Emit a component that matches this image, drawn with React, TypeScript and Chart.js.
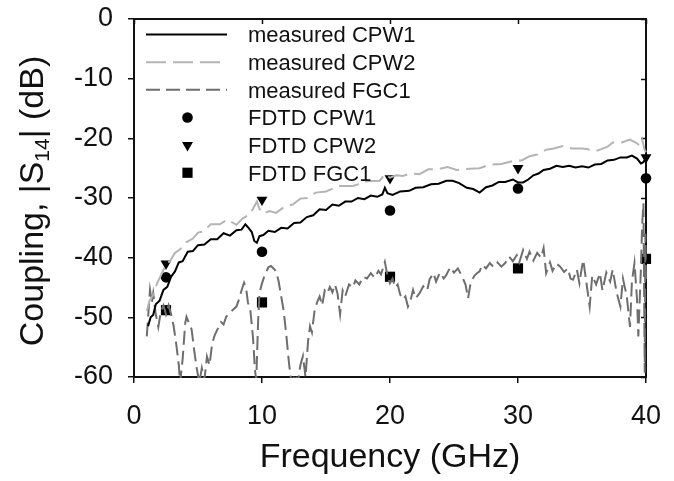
import React, { useEffect, useRef } from "react";
import { Chart, registerables } from "chart.js";

Chart.register(...registerables);

const FONT = '"Liberation Sans", Arial, Helvetica, sans-serif';

const xTicks = [0, 10, 20, 30, 40];
const yTicks = [-60, -50, -40, -30, -20, -10, 0];

const cpw1Freq = [1.1, 1.3, 1.5, 1.7, 2.0, 2.3, 2.6, 2.9, 3.2, 3.5, 3.8, 4.2, 4.6, 5.0, 5.5, 6.0, 6.5, 7.0, 7.5, 8.0, 8.4, 8.7, 8.9, 9.2, 9.4, 9.6, 9.8, 10.1, 10.5, 11, 11.5, 12, 12.5, 13, 13.5, 14, 14.5, 15, 15.5, 16, 16.5, 17, 17.5, 18, 18.5, 19, 19.4, 19.6, 19.8, 20.2, 20.8, 21.5, 22, 22.6, 23.2, 23.8, 24.4, 24.9, 25.4, 26, 26.5, 27, 27.5, 28, 28.5, 29, 29.6, 30, 30.4, 30.8, 31.2, 31.6, 32, 32.5, 33, 33.5, 34, 34.5, 35, 35.5, 36, 36.5, 37, 37.5, 38, 38.5, 38.9, 39.3, 39.6, 39.8, 40];
const cpw1Meas = [-51.5, -50.0, -49.6, -47.8, -47.2, -45.4, -44.9, -43.2, -42.3, -40.8, -40.6, -39.0, -38.9, -37.9, -37.8, -36.9, -36.9, -35.9, -36.3, -35.4, -35.3, -34.4, -34.9, -35.7, -37.2, -37.5, -36.4, -36.2, -35.5, -35.7, -35.0, -35.1, -34.2, -34.1, -33.2, -32.9, -31.9, -32.0, -31.1, -31.3, -30.6, -30.6, -30.0, -30.2, -29.6, -29.8, -29.4, -28.3, -29.2, -29.5, -28.9, -28.8, -28.3, -28.2, -27.7, -27.6, -27.1, -27.1, -27.5, -28.3, -28.5, -29.1, -28.2, -27.9, -27.3, -27.3, -26.9, -27.4, -27.4, -26.9, -26.2, -25.9, -25.3, -25.1, -24.6, -24.8, -24.6, -24.9, -24.7, -24.9, -24.4, -24.3, -23.7, -23.6, -23.2, -23.2, -22.9, -23.4, -24.2, -24.0, -23.2];

const cpw2Freq = [1.0, 1.2, 1.5, 1.8, 2.1, 2.5, 2.8, 3.2, 3.6, 4.1, 4.6, 5.0, 5.4, 6.0, 6.7, 7.3, 8.0, 8.5, 9.0, 9.3, 9.6, 9.8, 10.1, 10.6, 11.1, 11.8, 12.4, 13.0, 13.5, 14.2, 15.0, 16.0, 17.1, 18.2, 19.2, 19.6, 20.0, 20.5, 21.0, 21.6, 22.3, 23.0, 23.9, 24.5, 25.2, 26.2, 27.0, 27.8, 28.7, 29.6, 30.3, 30.9, 31.5, 32.2, 32.8, 33.5, 34.2, 35.0, 35.4, 36.0, 36.4, 37.0, 37.4, 38.1, 38.75, 39.2, 39.5, 39.7, 39.9, 40];
const cpw2Meas = [-49.0, -47.3, -46.2, -44.3, -43.0, -41.1, -40.6, -39.2, -38.6, -37.4, -36.8, -35.8, -35.6, -34.4, -34.4, -33.6, -34.5, -33.4, -32.8, -31.8, -30.6, -31.8, -32.6, -32.2, -32.5, -31.4, -31.1, -30.1, -30.0, -29.1, -28.9, -28.0, -28.0, -27.2, -27.1, -26.0, -26.6, -26.2, -26.3, -25.9, -26.0, -25.2, -25.1, -24.8, -25.3, -25.1, -25.0, -24.4, -24.3, -23.8, -23.7, -23.0, -22.7, -21.9, -21.7, -21.3, -21.7, -21.7, -21.8, -22.2, -21.9, -21.4, -20.7, -20.7, -20.2, -20.7, -21.2, -20.2, -22.0, -22.3];

const fgc1Freq = [1.0, 1.1, 1.25, 1.4, 1.5, 1.7, 1.9, 2.1, 2.3, 2.5, 2.7, 2.9, 3.1, 3.3, 3.5, 3.6, 3.8, 4.0, 4.1, 4.3, 4.5, 4.7, 4.9, 5.1, 5.3, 5.5, 5.7, 5.9, 6.1, 6.3, 6.5, 6.8, 7.0, 7.2, 7.5, 7.8, 8.0, 8.2, 8.4, 8.6, 8.75, 8.9, 9.1, 9.3, 9.45, 9.55, 9.7, 9.8, 10.0, 10.2, 10.5, 10.7, 10.9, 11.1, 11.3, 11.5, 11.7, 11.9, 12.1, 12.3, 12.6, 12.8, 13.0, 13.2, 13.4, 13.6, 13.75, 13.9, 14.1, 14.3, 14.5, 14.7, 14.9, 15.1, 15.3, 15.5, 15.7, 15.9, 16.1, 16.3, 16.5, 16.8, 17.1, 17.3, 17.6, 17.9, 18.2, 18.5, 18.8, 19.1, 19.3, 19.6, 19.8, 20.0, 20.2, 20.4, 20.6, 20.8, 21.0, 21.2, 21.4, 21.6, 21.8, 22.0, 22.3, 22.6, 22.9, 23.1, 23.4, 23.6, 23.9, 24.2, 24.4, 24.7, 25.0, 25.3, 25.6, 25.9, 26.1, 26.3, 26.6, 26.8, 27.0, 27.2, 27.5, 27.8, 28.1, 28.4, 28.7, 29.0, 29.3, 29.6, 29.9, 30.1, 30.4, 30.7, 30.9, 31.2, 31.5, 31.8, 32.0, 32.2, 32.5, 32.7, 33.0, 33.3, 33.6, 33.9, 34.1, 34.3, 34.6, 34.8, 35.0, 35.1, 35.3, 35.6, 35.8, 36.1, 36.4, 36.6, 36.9, 37.2, 37.4, 37.7, 38.0, 38.2, 38.5, 38.75, 38.9, 39.1, 39.3, 39.4, 39.6, 39.7, 39.8, 39.85, 39.9, 39.95, 40.0];
const fgc1Meas = [-53.2, -50.0, -45.4, -47.5, -46.0, -49.5, -51.6, -49.0, -48.0, -49.5, -48.0, -49.5, -51.5, -54.5, -58.0, -61, -57.0, -51.0, -49.9, -51.0, -52.0, -55.5, -58.5, -61, -58.5, -60.5, -56.6, -58.0, -54.5, -53.0, -52.1, -50.8, -51.2, -49.9, -49.2, -48.6, -48.2, -47.0, -45.5, -44.2, -45.0, -47.5, -49.0, -53.5, -58.8, -60.5, -50.5, -46.0, -44.3, -43.0, -41.6, -41.4, -41.8, -42.3, -44.0, -46.5, -49.0, -53.0, -57.5, -61, -59.5, -61, -58.0, -56.5, -60.0, -54.0, -51.5, -52.5, -49.0, -47.5, -46.5, -48.0, -45.5, -46.0, -44.9, -45.8, -44.5, -46.0, -49.5, -45.5, -46.5, -44.5, -45.0, -43.8, -44.5, -43.2, -43.5, -42.6, -43.4, -42.2, -42.8, -40.7, -43.0, -44.3, -43.5, -45.0, -44.5, -46.2, -47.0, -46.5, -48.2, -47.2, -45.4, -46.8, -46.0, -44.8, -45.5, -43.6, -42.6, -44.0, -42.5, -43.5, -42.9, -41.6, -42.5, -41.8, -43.0, -44.5, -46.8, -44.2, -43.0, -42.6, -42.3, -41.2, -41.8, -40.9, -41.6, -40.8, -41.5, -40.9, -39.8, -40.6, -39.6, -40.8, -38.7, -40.2, -39.0, -40.5, -39.2, -40.0, -38.4, -42.6, -40.8, -42.2, -41.0, -41.5, -42.4, -41.8, -43.5, -43.7, -42.0, -44.3, -41.5, -40.4, -43.5, -48.2, -43.0, -44.5, -42.6, -45.5, -42.5, -44.0, -42.0, -45.8, -48.2, -43.5, -46.5, -51.6, -44.0, -40.9, -47.0, -53.2, -42.0, -34.5, -30.9, -45.0, -59.3, -36.0, -44.0];

const fdtdFreq = [2.5, 10, 20, 30, 40];
const fdtdCPW1 = [-43.3, -39.0, -32.1, -28.4, -26.7];
const fdtdCPW2 = [-41.0, -30.3, -26.7, -25.0, -23.2];
const fdtdFGC1 = [-48.8, -47.5, -43.2, -41.8, -40.2];

const seriesLabels = ["measured CPW1", "measured CPW2", "measured FGC1", "FDTD CPW1", "FDTD CPW2", "FDTD FGC1"];

const pts = (xs: number[], ys: number[]) => xs.map((x, i) => ({ x, y: ys[i] }));

const decor = {
  id: "decor",
  beforeDatasetsDraw(chart: any) {
    const { ctx, chartArea: a, scales } = chart;
    const x = scales.x, y = scales.y;
    ctx.save();
    ctx.strokeStyle = "#111";
    ctx.lineWidth = 2;
    ctx.strokeRect(a.left, a.top, a.right - a.left, a.bottom - a.top);
    ctx.lineWidth = 1.5;
    ctx.beginPath();
    for (const t of xTicks) {
      const px = Math.round(x.getPixelForValue(t)) + 0.5;
      ctx.moveTo(px, a.top);
      ctx.lineTo(px, a.top + 5);
    }
    for (const t of yTicks) {
      const py = Math.round(y.getPixelForValue(t)) + 0.5;
      ctx.moveTo(a.right, py);
      ctx.lineTo(a.right - 5, py);
    }
    ctx.stroke();
    ctx.restore();
  },
  afterDraw(chart: any) {
    const { ctx, chartArea: a } = chart;
    ctx.save();
    const ds = chart.data.datasets;
    const lx0 = 146, lx1 = 227, tx = 248;
    ctx.font = `22px ${FONT}`;
    ctx.textBaseline = "alphabetic";
    ctx.textAlign = "left";
    for (let i = 0; i < ds.length; i++) {
      const d = ds[i];
      const cy = 34.5 + i * 27.65;
      if (d.showLine) {
        ctx.save();
        ctx.strokeStyle = d.borderColor;
        ctx.lineWidth = d.borderWidth;
        ctx.setLineDash(d.borderDash || []);
        ctx.beginPath();
        ctx.moveTo(lx0, cy);
        ctx.lineTo(lx1, cy);
        ctx.stroke();
        ctx.restore();
      } else {
        const meta = chart.getDatasetMeta(i);
        const el = meta.data[0];
        if (el) {
          const opts = el.options;
          ctx.save();
          ctx.fillStyle = opts.backgroundColor;
          const r = opts.radius;
          const style = opts.pointStyle;
          const cx = (lx0 + lx1) / 2 + 1;
          ctx.beginPath();
          if (style === "circle") {
            ctx.arc(cx, cy, r, 0, Math.PI * 2);
          } else if (style === "triangle") {
            let rad = Math.PI;
            ctx.moveTo(cx + Math.sin(rad) * r, cy - Math.cos(rad) * r);
            rad += (2 * Math.PI) / 3;
            ctx.lineTo(cx + Math.sin(rad) * r, cy - Math.cos(rad) * r);
            rad += (2 * Math.PI) / 3;
            ctx.lineTo(cx + Math.sin(rad) * r, cy - Math.cos(rad) * r);
            ctx.closePath();
          } else {
            const s = Math.SQRT1_2 * r;
            ctx.rect(cx - s, cy - s, 2 * s, 2 * s);
          }
          ctx.fill();
          ctx.restore();
        }
      }
      ctx.fillStyle = "#111";
      ctx.fillText(seriesLabels[i], tx, cy + 7.9);
    }
    ctx.fillStyle = "#111";
    ctx.font = `34px ${FONT}`;
    ctx.textAlign = "center";
    ctx.fillText("Frequency (GHz)", (a.left + a.right) / 2, 467);
    ctx.save();
    ctx.translate(43, 201);
    ctx.rotate(-Math.PI / 2);
    ctx.textAlign = "left";
    const mainFont = `34px ${FONT}`;
    const subFont = `21px ${FONT}`;
    const p1 = "Coupling, |S", p2 = "14", p3 = "| (dB)";
    ctx.font = mainFont;
    const w1 = ctx.measureText(p1).width;
    const w3 = ctx.measureText(p3).width;
    ctx.font = subFont;
    const w2 = ctx.measureText(p2).width;
    const total = w1 + w2 + w3;
    let u = -total / 2;
    ctx.font = mainFont;
    ctx.fillText(p1, u, 0);
    u += w1;
    ctx.font = subFont;
    ctx.fillText(p2, u, 6);
    u += w2;
    ctx.font = mainFont;
    ctx.fillText(p3, u, 0);
    ctx.restore();
    ctx.restore();
  },
};

export default function App() {
  const ref = useRef<HTMLCanvasElement | null>(null);
  useEffect(() => {
    if (!ref.current) return;
    const chart = new Chart(ref.current, {
      type: "scatter",
      data: {
        datasets: [
          { label: seriesLabels[0], data: pts(cpw1Freq, cpw1Meas), showLine: true, borderColor: "#000", borderWidth: 2, borderDash: [], pointRadius: 0, fill: false, clip: 1 },
          { label: seriesLabels[1], data: pts(cpw2Freq, cpw2Meas), showLine: true, borderColor: "#b4b4b4", borderWidth: 2, borderDash: [20, 7], pointRadius: 0, fill: false, clip: 1 },
          { label: seriesLabels[2], data: pts(fgc1Freq, fgc1Meas), showLine: true, borderColor: "#6e6e6e", borderWidth: 2, borderDash: [14, 6], pointRadius: 0, fill: false, clip: 1 },
          { label: seriesLabels[3], data: pts(fdtdFreq, fdtdCPW1), showLine: false, pointStyle: "circle", pointRadius: 5.3, backgroundColor: "#000", borderColor: "#000", borderWidth: 0, clip: false },
          { label: seriesLabels[4], data: pts(fdtdFreq, fdtdCPW2), showLine: false, pointStyle: "triangle", pointRotation: 180, pointRadius: 6.3, backgroundColor: "#000", borderColor: "#000", borderWidth: 0, clip: false },
          { label: seriesLabels[5], data: pts(fdtdFreq, fdtdFGC1), showLine: false, pointStyle: "rect", pointRadius: 7.2, backgroundColor: "#000", borderColor: "#000", borderWidth: 0, clip: false },
        ] as any,
      },
      options: {
        responsive: false,
        animation: false,
        devicePixelRatio: 1,
        layout: { padding: { left: 0, top: 19, right: 28, bottom: 0 } },
        plugins: { legend: { display: false }, tooltip: { enabled: false } },
        scales: {
          x: {
            type: "linear",
            min: 0,
            max: 40,
            afterFit: (s: any) => {
              s.height = 104;
              s.paddingLeft = 0;
              s.paddingRight = 0;
            },
            afterBuildTicks: (s: any) => {
              s.ticks = xTicks.map((v) => ({ value: v }));
            },
            ticks: { font: { size: 27, family: FONT }, color: "#111", padding: 17, maxRotation: 0, autoSkip: false },
            grid: { drawOnChartArea: false, drawTicks: true, tickLength: 6, color: "#111", lineWidth: 1.5 },
            border: { display: false },
          },
          y: {
            type: "linear",
            min: -60,
            max: 0,
            afterFit: (s: any) => {
              s.width = 134;
              s.paddingTop = 0;
              s.paddingBottom = 0;
            },
            afterBuildTicks: (s: any) => {
              s.ticks = yTicks.map((v) => ({ value: v }));
            },
            ticks: { font: { size: 27, family: FONT }, color: "#111", padding: 15, autoSkip: false },
            grid: { drawOnChartArea: false, drawTicks: true, tickLength: 6, color: "#111", lineWidth: 1.5 },
            border: { display: false },
          },
        },
      },
      plugins: [decor],
    } as any);
    return () => chart.destroy();
  }, []);
  return (
    <div style={{ position: "fixed", left: 0, top: 0, width: 674, height: 481, background: "#fff" }}>
      <canvas ref={ref} width={674} height={481} style={{ display: "block" }} />
    </div>
  );
}
